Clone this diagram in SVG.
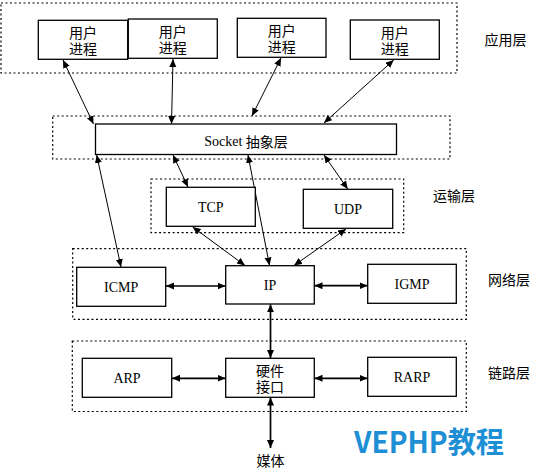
<svg xmlns="http://www.w3.org/2000/svg" width="542" height="473" viewBox="0 0 542 473">
<style>
.layer{fill:none;stroke:#000;stroke-width:1.2;stroke-dasharray:2 2.5}
.box{fill:#fff;stroke:#000;stroke-width:1.3}
.lat{font-family:"Liberation Serif","Times New Roman",serif;font-size:14px;fill:#000;text-anchor:middle;dominant-baseline:central}
.cjk{font-family:"Noto Sans CJK SC",sans-serif;font-size:14px;fill:#000;text-anchor:middle;dominant-baseline:central}
.thin{fill:none;stroke:#000;stroke-width:1;marker-start:url(#ah);marker-end:url(#ah)}
.thick{fill:none;stroke:#000;stroke-width:1.7;marker-start:url(#ah);marker-end:url(#ah)}
</style>
<defs>
<marker id="ah" markerUnits="userSpaceOnUse" markerWidth="9" markerHeight="8" refX="8" refY="3.5" orient="auto-start-reverse">
<path d="M0,0 L8,3.5 L0,7 z" fill="#000"/>
</marker>
</defs>
<rect width="542" height="473" fill="#fff"/>
<g id="layers">
<rect class="layer" x="1" y="3" width="456" height="70"/>
<rect class="layer" x="52.7" y="116" width="397.3" height="43"/>
<rect class="layer" x="151" y="179" width="252.7" height="53.7"/>
<rect class="layer" x="72.7" y="248.7" width="393.6" height="70.6"/>
<rect class="layer" x="72.3" y="341" width="394" height="70.5"/>
</g>
<g id="layer-labels">
<text class="cjk" x="505.5" y="39">应用层</text>
<text class="cjk" x="454" y="195">运输层</text>
<text class="cjk" x="509" y="279">网络层</text>
<text class="cjk" x="509" y="372">链路层</text>
</g>
<g id="connectors">
<line class="thin" x1="63" y1="60" x2="93.5" y2="124"/>
<line class="thin" x1="173" y1="59" x2="171.5" y2="124"/>
<line class="thin" x1="281" y1="58" x2="252" y2="116"/>
<line class="thin" x1="393.7" y1="60" x2="324" y2="123"/>
<line class="thin" x1="96.7" y1="155" x2="121" y2="267"/>
<line class="thin" x1="173" y1="155" x2="188" y2="187"/>
<line class="thin" x1="248" y1="155" x2="269.5" y2="265.5"/>
<line class="thin" x1="324" y1="155" x2="347.7" y2="189"/>
<line class="thin" x1="192.7" y1="227" x2="245" y2="265.5"/>
<line class="thin" x1="346" y1="229" x2="294" y2="265.5"/>
<line class="thick" x1="166" y1="286" x2="225.5" y2="286"/>
<line class="thick" x1="314.5" y1="285.7" x2="367.5" y2="285.7"/>
<line class="thick" x1="270.5" y1="304.3" x2="270.5" y2="358"/>
<line class="thick" x1="172" y1="378.3" x2="225.5" y2="378.3"/>
<line class="thick" x1="314.5" y1="378.3" x2="367.5" y2="378.3"/>
<line class="thick" x1="270.5" y1="397.6" x2="270.5" y2="448"/>
</g>
<g id="proc1"><rect class="box" x="38.3" y="20.3" width="89.4" height="39"/><text class="cjk" x="83" y="31.7">用户</text><text class="cjk" x="83" y="47.7">进程</text></g>
<g id="proc2"><rect class="box" x="128.3" y="19" width="89" height="39.3"/><text class="cjk" x="172.8" y="30.5">用户</text><text class="cjk" x="172.8" y="46.5">进程</text></g>
<g id="proc3"><rect class="box" x="237.3" y="18.3" width="88.7" height="39"/><text class="cjk" x="281.7" y="29.7">用户</text><text class="cjk" x="281.7" y="45.7">进程</text></g>
<g id="proc4"><rect class="box" x="350.3" y="20" width="89" height="39.3"/><text class="cjk" x="394.8" y="31.5">用户</text><text class="cjk" x="394.8" y="47.5">进程</text></g>
<g id="socket"><rect class="box" x="95.5" y="124" width="301" height="30.5"/><text x="246" y="140.5" dominant-baseline="central" text-anchor="middle" font-size="14"><tspan font-family="Liberation Serif, serif">Socket </tspan><tspan font-family="Noto Sans CJK SC, sans-serif">抽象层</tspan></text></g>
<g id="tcp"><rect class="box" x="166.3" y="187.3" width="89" height="39"/><text class="lat" x="210.8" y="207">TCP</text></g>
<g id="udp"><rect class="box" x="303.3" y="189.3" width="89.4" height="39"/><text class="lat" x="348" y="209">UDP</text></g>
<g id="icmp"><rect class="box" x="76.7" y="267.3" width="89" height="39"/><text class="lat" x="121.2" y="287">ICMP</text></g>
<g id="ip"><rect class="box" x="225.7" y="265.7" width="88.6" height="38.3"/><text class="lat" x="270" y="285">IP</text></g>
<g id="igmp"><rect class="box" x="367.7" y="264.3" width="88.6" height="39"/><text class="lat" x="412" y="284">IGMP</text></g>
<g id="arp"><rect class="box" x="82.3" y="358.3" width="89.4" height="39"/><text class="lat" x="127" y="378">ARP</text></g>
<g id="hw"><rect class="box" x="225.7" y="358.3" width="88.6" height="39"/><text class="cjk" x="270" y="370">硬件</text><text class="cjk" x="270" y="386">接口</text></g>
<g id="rarp"><rect class="box" x="367.7" y="357.3" width="88.6" height="39"/><text class="lat" x="412" y="377">RARP</text></g>
<g id="media"><text class="cjk" x="270.5" y="460">媒体</text></g>
<text x="354" y="453" font-family="Noto Sans CJK SC, sans-serif" font-weight="bold" font-size="29" fill="#1e8fd5" textLength="150" lengthAdjust="spacingAndGlyphs">VEPHP教程</text>
</svg>
